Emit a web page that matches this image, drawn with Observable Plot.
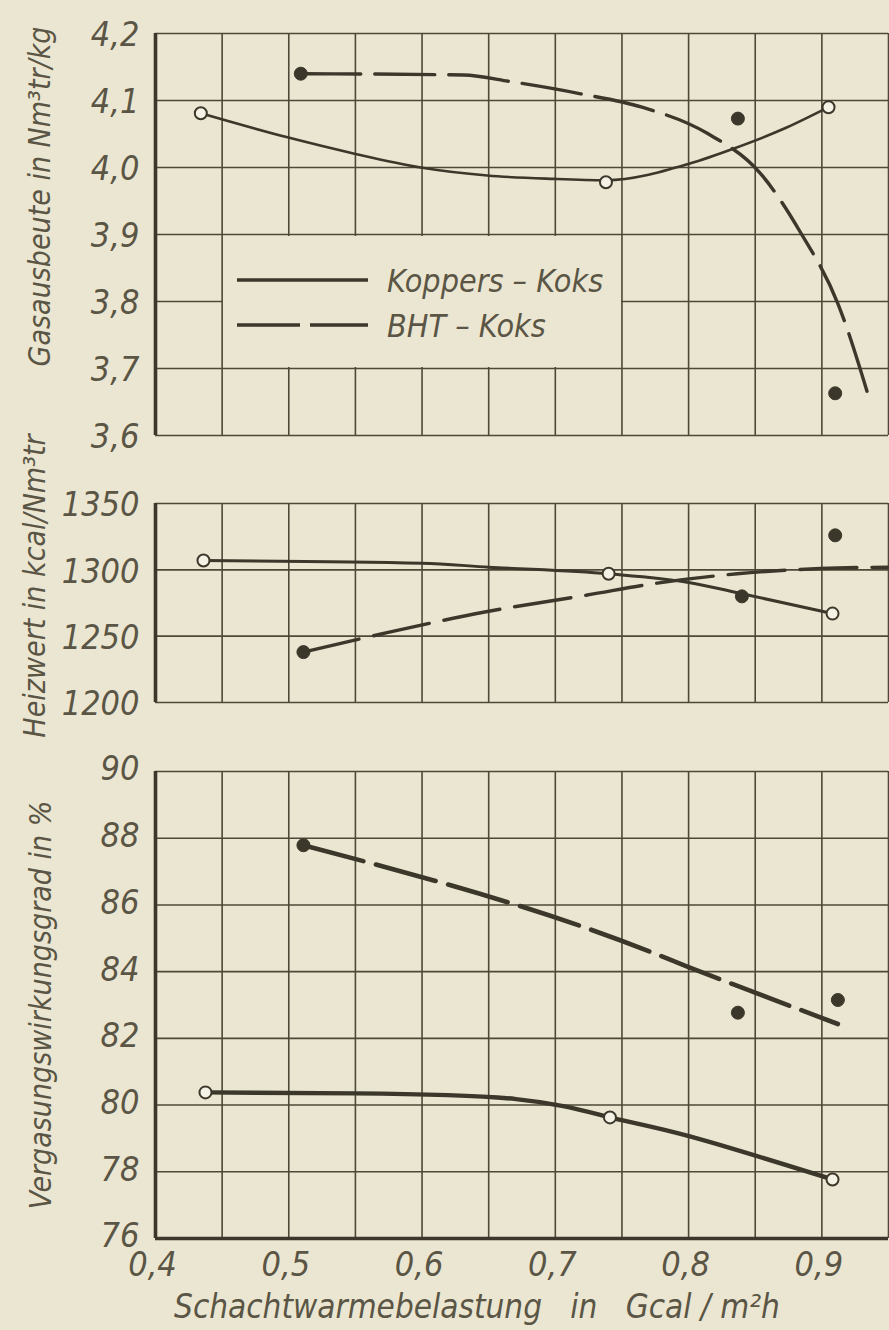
<!DOCTYPE html>
<html><head><meta charset="utf-8">
<script src="https://cdn.jsdelivr.net/npm/d3@7"></script>
<script src="https://cdn.jsdelivr.net/npm/@observablehq/plot@0.6"></script>
<style>
  html,body{margin:0;padding:0;background:#ebe6d1;}
  #wrap{position:relative;width:889px;height:1330px;overflow:hidden;background:#ebe6d1;}
  .panel{position:absolute;left:0;}
  #legend{position:absolute;left:223px;top:236px;width:398px;height:131px;background:#ebe6d1;}
</style>
</head><body>
<div id="wrap">
  <div class="panel" id="p1" style="top:0px"></div>
  <div class="panel" id="p2" style="top:450px"></div>
  <div class="panel" id="p3" style="top:720px"></div>
  <div id="legend"></div>
</div>
<script>
// ---------- data ----------
const seriesNames = ["Koppers – Koks", "BHT – Koks"];
const xTickValues = [0.4, 0.5, 0.6, 0.7, 0.8, 0.9];
const xGridValues = [0.4, 0.45, 0.5, 0.55, 0.6, 0.65, 0.7, 0.75, 0.8, 0.85, 0.9, 0.95];

// Panel 1: Gasausbeute
const gasTicks = [3.6, 3.7, 3.8, 3.9, 4.0, 4.1, 4.2];
const gasKoppersPoints = [[0.434, 4.081], [0.738, 3.978], [0.905, 4.09]];
const gasKoppersCurve = [[0.434, 4.081], [0.499, 4.045], [0.5485, 4.021], [0.599, 4.0], [0.649, 3.988], [0.6985, 3.983], [0.738, 3.981], [0.801, 4.006], [0.8335, 4.028], [0.874, 4.06], [0.905, 4.09]];
const gasBhtPoints = [[0.509, 4.14], [0.837, 4.073], [0.91, 3.663]];
const gasBhtCurve = [[0.509, 4.14], [0.631, 4.138], [0.667, 4.128], [0.719, 4.11], [0.765, 4.09], [0.814, 4.051], [0.854, 3.991], [0.884, 3.903], [0.912, 3.797], [0.936, 3.652]];

// Panel 2: Heizwert
const heatTicks = [1200, 1250, 1300, 1350];
const heatKoppersPoints = [[0.436, 1307], [0.74, 1297], [0.908, 1267]];
const heatKoppersCurve = [[0.436, 1307], [0.6, 1305], [0.65, 1302], [0.74, 1297], [0.8, 1290.5], [0.84, 1282], [0.908, 1267]];
const heatBhtPoints = [[0.511, 1238], [0.84, 1280], [0.91, 1326]];
const heatBhtCurve = [[0.511, 1238], [0.571, 1252], [0.646, 1268], [0.724, 1281], [0.7765, 1290], [0.8365, 1297], [0.899, 1301], [0.95, 1302]];

// Panel 3: Vergasungswirkungsgrad
const effTicks = [76, 78, 80, 82, 84, 86, 88, 90];
const effKoppersPoints = [[0.4375, 80.38], [0.741, 79.63], [0.908, 77.77]];
const effKoppersCurve = [[0.4375, 80.38], [0.55, 80.35], [0.6705, 80.18], [0.741, 79.63], [0.801, 79.06], [0.908, 77.77]];
const effBhtPoints = [[0.511, 87.79], [0.837, 82.77], [0.912, 83.15]];
const effBhtCurve = [[0.511, 87.79], [0.771, 84.6], [0.799, 84.15], [0.846, 83.43], [0.912, 82.43]];

// ---------- style ----------
const BG = "#ebe6d1";
const INK = "#3b372a";
const GRID = "#4d4837";
const TEXT = "#5a5545";
const FONT = "'Liberation Sans Narrow', 'DejaVu Sans Condensed', 'DejaVu Sans', sans-serif";
const comma1 = d => d.toFixed(1).replace(".", ",");

function panel({el, height, mt, mb, yDomain, yTicks, yFmt, title, tdx, tdy, series, lw, dash, xAxis, bottomThick, ydy, kCurveType}) {
  const marks = [
    Plot.ruleX(xGridValues, {stroke: GRID, strokeWidth: 1.6}),
    Plot.ruleY(yTicks, {stroke: GRID, strokeWidth: 1.6}),
    Plot.ruleX([0.4], {stroke: INK, strokeWidth: 3.6}),
    Plot.axisY(yTicks, {tickSize: 0, tickPadding: 16, tickFormat: yFmt, dy: ydy, fill: TEXT, fontSize: 34, fontStyle: "italic", label: null}),
    Plot.text([title], {frameAnchor: "left", dx: tdx, dy: tdy, rotate: -90, textAnchor: "middle", lineAnchor: "middle", text: d => d, fill: TEXT, fontSize: 30, fontStyle: "italic"}),
    Plot.line(series.kCurve, {x: d => d[0], y: d => d[1], curve: kCurveType || "monotone-x", stroke: INK, strokeWidth: lw[0]}),
    Plot.line(series.bCurve, {x: d => d[0], y: d => d[1], curve: "monotone-x", stroke: INK, strokeWidth: lw[1], strokeDasharray: dash}),
    Plot.dot(series.kPts, {x: d => d[0], y: d => d[1], r: 6, fill: "#f4f1e5", stroke: INK, strokeWidth: 2}),
    Plot.dot(series.bPts, {x: d => d[0], y: d => d[1], r: 6.5, fill: INK, stroke: INK, strokeWidth: 1})
  ];
  if (bottomThick) marks.push(Plot.ruleY([yDomain[0]], {stroke: INK, strokeWidth: 3.6}));
  if (xAxis) {
    marks.push(Plot.axisX(xTickValues, {tickSize: 0, tickPadding: 13, dx: -3, tickFormat: comma1, fill: TEXT, fontSize: 34, fontStyle: "italic", label: null}));
    marks.push(Plot.text(["Schachtwarmebelastung\u00a0\u00a0 in \u00a0\u00a0Gcal / m²h"], {frameAnchor: "bottom", dx: -45, dy: 69, textAnchor: "middle", lineAnchor: "middle", text: d => d, fill: TEXT, fontSize: 33, fontStyle: "italic"}));
  }
  const chart = Plot.plot({
    width: 889, height,
    marginLeft: 155, marginRight: 1, marginTop: mt, marginBottom: mb,
    x: {domain: [0.4, 0.95], axis: null},
    y: {domain: yDomain, axis: null},
    style: {background: "transparent", fontFamily: FONT, color: TEXT, overflow: "visible"},
    marks
  });
  document.getElementById(el).appendChild(chart);
}

panel({el: "p1", height: 450, mt: 33, mb: 15, yDomain: [3.6, 4.2], yTicks: gasTicks, yFmt: comma1,
  title: "Gasausbeute in Nm³tr/kg", tdx: -115, tdy: -38, ydy: 2,
  series: {kCurve: gasKoppersCurve, bCurve: gasBhtCurve, kPts: gasKoppersPoints, bPts: gasBhtPoints},
  lw: [2.6, 3.4], dash: "60,14"});

panel({el: "p2", height: 270, mt: 53, mb: 18, yDomain: [1200, 1350], yTicks: heatTicks, yFmt: d => String(d),
  title: "Heizwert in kcal/Nm³tr", tdx: -120, tdy: -17, ydy: 2,
  series: {kCurve: heatKoppersCurve, bCurve: heatBhtCurve, kPts: heatKoppersPoints, bPts: heatBhtPoints},
  lw: [3, 3.4], dash: "57,15"});

panel({el: "p3", height: 610, mt: 51, mb: 92, yDomain: [76, 90], yTicks: effTicks, yFmt: d => String(d),
  title: "Vergasungswirkungsgrad in %", tdx: -114, tdy: 0, ydy: -2,
  series: {kCurve: effKoppersCurve, bCurve: effBhtCurve, kPts: effKoppersPoints, bPts: effBhtPoints},
  lw: [4.4, 4.6], dash: "62,13", xAxis: true, bottomThick: true, kCurveType: "natural"});

// ---------- legend ----------
const lg = d3.select("#legend").append("svg").attr("width", 398).attr("height", 131);
const rows = [{name: seriesNames[0], dash: null, y: 44}, {name: seriesNames[1], dash: "63,10", y: 89}];
rows.forEach(r => {
  lg.append("line").attr("x1", 14).attr("x2", 145).attr("y1", r.y).attr("y2", r.y)
    .attr("stroke", INK).attr("stroke-width", 3.6).attr("stroke-dasharray", r.dash);
  lg.append("text").attr("x", 164).attr("y", r.y + 12).text(r.name)
    .attr("fill", TEXT).attr("font-family", FONT).attr("font-size", 32).attr("font-style", "italic");
});
</script>
</body></html>
